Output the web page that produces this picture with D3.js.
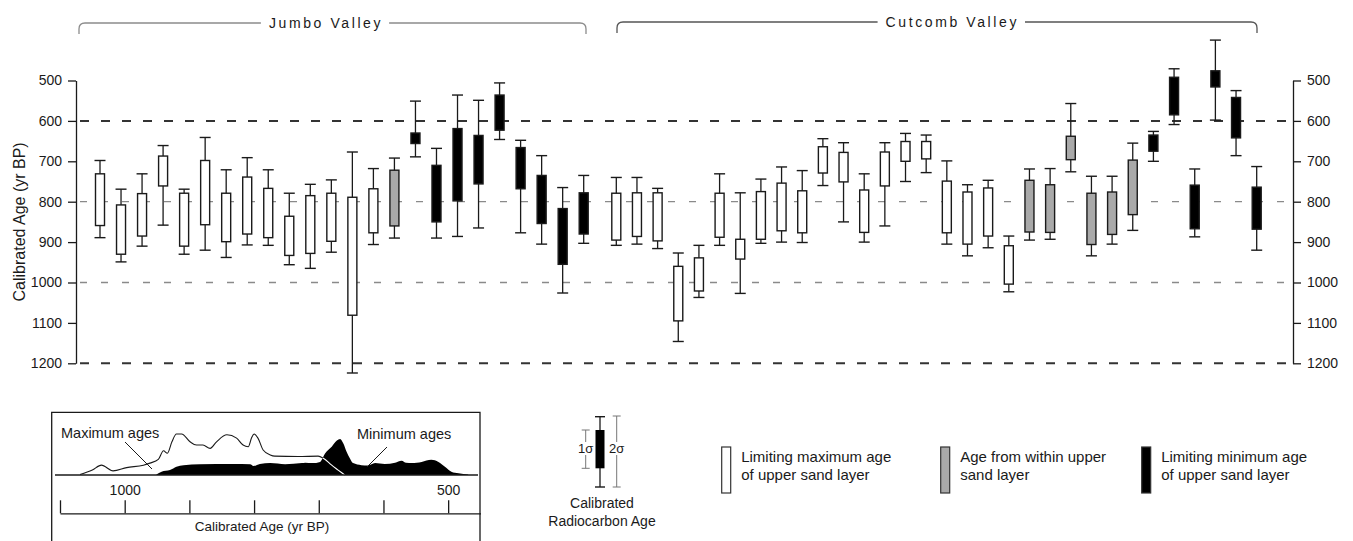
<!DOCTYPE html>
<html><head><meta charset="utf-8">
<script src="https://cdn.jsdelivr.net/npm/d3@7"></script>
<style>
body{margin:0;background:#fff;}
svg{display:block;font-family:"Liberation Sans",Arial,Helvetica,sans-serif;}
</style></head><body>
<svg id="chart" width="1353" height="541"></svg>
<script>
// ---------------- data ----------------
const groupNames = ["Jumbo Valley", "Cutcomb Valley"];
const yTicks = [500, 600, 700, 800, 900, 1000, 1100, 1200];
const darkRefLines = [600, 1200];
const lightRefLines = [800, 1000];

// Jumbo Valley samples (yr BP): 2σ young, 1σ young, 1σ old, 2σ old
const jumboType = ["max","max","max","max","max","max","max","max","max","max","max","max","max","max",
                   "within","min","min","min","min","min","min","min","min","min"];
const jumboLo2 = [698,769,731,661,769,641,721,691,721,779,757,746,677,718,692,551,668,536,549,506,648,686,765,735];
const jumboLo1 = [731,808,780,687,779,698,779,739,767,836,785,779,789,768,722,630,710,619,636,536,666,735,817,778];
const jumboHi1 = [859,930,885,761,910,857,899,880,889,933,928,898,1081,877,860,656,850,798,756,623,768,854,955,880];
const jumboHi2 = [889,949,910,858,930,920,938,907,908,956,965,925,1224,906,890,689,890,886,865,646,877,905,1026,903];

// Cutcomb Valley samples
const cutType = ["max","max","max","max","max","max","max","max","max","max","max","max","max","max","max","max","max","max","max","max",
                 "within","within","within","within","within","within","min","min","min","min","min","min"];
const cutLo2 = [740,740,767,927,908,731,778,744,714,723,644,654,731,654,631,635,699,758,747,885,719,718,557,737,737,655,626,471,719,400,525,713];
const cutLo1 = [779,778,778,960,939,779,893,775,754,773,664,678,771,677,651,651,749,776,766,909,747,758,638,779,776,697,635,492,759,476,542,764];
const cutHi1 = [895,886,897,1095,1021,888,942,893,872,877,729,751,876,761,700,694,877,905,885,1004,875,876,696,906,881,832,675,585,867,516,642,868];
const cutHi2 = [908,905,916,1146,1037,908,1027,903,900,901,760,850,900,860,750,728,905,934,914,1023,895,893,726,934,905,871,700,609,887,598,686,920];

// Inset: summed probability of maximum / minimum ages
const insetTicks = [1100, 1000, 900, 800, 700, 600, 500];
const insetLabels = [1000, 500];
const maxYear = [1069,1050,1036,1018,997,971,961,948,940,934,927,920,912,899,889,879,868,858,842,827,817,809,804,800,794,786,775,768,732,701,693,680,670,660];
const maxDens = [0.01,0.12,0.24,0.10,0.18,0.24,0.29,0.38,0.59,0.53,0.81,1.0,1.0,0.81,0.73,0.73,0.65,0.81,0.98,0.90,0.73,0.69,0.90,1.0,0.90,0.61,0.49,0.46,0.45,0.46,0.41,0.24,0.12,0];
const minYear = [951,943,930,920,909,884,832,806,801,791,775,752,726,721,710,698,690,680,672,667,662,657,652,647,634,624,613,598,582,572,565,556,541,526,515,505,495,484,469];
const minDens = [0.01,0.08,0.12,0.20,0.24,0.26,0.27,0.26,0.22,0.27,0.29,0.26,0.29,0.30,0.29,0.32,0.53,0.69,0.84,0.88,0.77,0.57,0.41,0.29,0.24,0.23,0.29,0.27,0.30,0.35,0.30,0.29,0.32,0.37,0.32,0.20,0.08,0.04,0.01];

const typeFill = {max: "#ffffff", within: "#a9a9a9", min: "#000000"};
const legendItems = [
  {type: "max", lines: ["Limiting maximum age", "of upper sand layer"]},
  {type: "within", lines: ["Age from within upper", "sand layer"]},
  {type: "min", lines: ["Limiting minimum age", "of upper sand layer"]}
];

// ---------------- chart ----------------
const svg = d3.select("#chart");
const INK = "#1a1a1a";
const FONT = "Liberation Sans, Arial, sans-serif";

const y = d3.scaleLinear().domain([500, 1200]).range([80.5, 363.3]);
const xL = 76, xR = 1293;

const jumbo = jumboType.map((t, i) => ({id: "J" + i, type: t, lo2: jumboLo2[i], lo1: jumboLo1[i], hi1: jumboHi1[i], hi2: jumboHi2[i]}));
const cut = cutType.map((t, i) => ({id: "C" + i, type: t, lo2: cutLo2[i], lo1: cutLo1[i], hi1: cutHi1[i], hi2: cutHi2[i]}));
const xJ = d3.scalePoint().domain(jumbo.map(d => d.id)).range([100, 583.7]);
const xC = d3.scalePoint().domain(cut.map(d => d.id)).range([616.3, 1256.7]);

// reference dashed lines
svg.append("g").selectAll("line").data(darkRefLines).join("line")
  .attr("x1", xL + 4).attr("x2", xR - 2).attr("y1", d => y(d)).attr("y2", d => y(d))
  .attr("stroke", "#333").attr("stroke-width", 2).attr("stroke-dasharray", "9,12");
svg.append("g").selectAll("line").data(lightRefLines).join("line")
  .attr("x1", xL + 4).attr("x2", xR - 2).attr("y1", d => y(d)).attr("y2", d => y(d))
  .attr("stroke", "#8a8a8a").attr("stroke-width", 1.3).attr("stroke-dasharray", "7,14");

// axes
const fmt = d3.format("d");
const axL = svg.append("g").attr("transform", `translate(${xL},0)`)
  .call(d3.axisLeft(y).tickValues(yTicks).tickFormat(fmt).tickSize(8).tickSizeOuter(0).tickPadding(6));
const axR = svg.append("g").attr("transform", `translate(${xR},0)`)
  .call(d3.axisRight(y).tickValues(yTicks).tickFormat(fmt).tickSize(8).tickSizeOuter(0).tickPadding(6));
[axL, axR].forEach(a => {
  a.selectAll("path,line").attr("stroke", INK).attr("stroke-width", 1.3);
  a.selectAll("text").attr("fill", INK).attr("font-size", 14).attr("font-family", FONT);
});

svg.append("text").attr("transform", `translate(25,${(y(500) + y(1200)) / 2}) rotate(-90)`)
  .attr("text-anchor", "middle").attr("font-size", 16).attr("fill", INK)
  .text("Calibrated Age (yr BP)");

// boxes
function drawBoxes(data, x) {
  const g = svg.append("g");
  const bw = 9, cw = 11;
  const s = g.selectAll("g").data(data).join("g");
  s.append("line").attr("x1", d => x(d.id)).attr("x2", d => x(d.id))
    .attr("y1", d => y(d.lo2)).attr("y2", d => y(d.hi2)).attr("stroke", INK).attr("stroke-width", 1.3);
  s.append("line").attr("x1", d => x(d.id) - cw / 2).attr("x2", d => x(d.id) + cw / 2)
    .attr("y1", d => y(d.lo2)).attr("y2", d => y(d.lo2)).attr("stroke", INK).attr("stroke-width", 1.4);
  s.append("line").attr("x1", d => x(d.id) - cw / 2).attr("x2", d => x(d.id) + cw / 2)
    .attr("y1", d => y(d.hi2)).attr("y2", d => y(d.hi2)).attr("stroke", INK).attr("stroke-width", 1.4);
  s.append("rect").attr("x", d => x(d.id) - bw / 2).attr("width", bw)
    .attr("y", d => y(d.lo1)).attr("height", d => y(d.hi1) - y(d.lo1))
    .attr("fill", d => typeFill[d.type]).attr("stroke", INK).attr("stroke-width", 1.4);
}
drawBoxes(jumbo, xJ);
drawBoxes(cut, xC);

// group brackets
function bracket(name, x0, x1, yLine, yEnd, textAnchorX, anchor, color) {
  const g = svg.append("g");
  const t = g.append("text").attr("x", textAnchorX).attr("y", yLine + 5)
    .attr("text-anchor", anchor).attr("font-size", 14).attr("letter-spacing", 2.6).attr("fill", INK).text(name);
  const bb = t.node().getBBox();
  const r = 6, gap = 8;
  g.append("path").attr("fill", "none").attr("stroke", color).attr("stroke-width", 1.3)
    .attr("d", `M${x0},${yEnd} L${x0},${yLine + r} Q${x0},${yLine} ${x0 + r},${yLine} L${bb.x - gap},${yLine}`);
  g.append("path").attr("fill", "none").attr("stroke", color).attr("stroke-width", 1.3)
    .attr("d", `M${bb.x + bb.width + gap - 2},${yLine} L${x1 - r},${yLine} Q${x1},${yLine} ${x1},${yLine + r} L${x1},${yEnd}`);
}
bracket(groupNames[0], 79, 586, 23, 34, 326, "middle", "#8c8c8c");
bracket(groupNames[1], 617, 1257, 22, 33, 1019, "end", "#555");

// ---------------- inset ----------------
const ins = svg.append("g");
ins.append("path").attr("fill", "none").attr("stroke", INK).attr("stroke-width", 1.3)
  .attr("d", "M51.7,541 L51.7,412.3 L480,412.3 L480,541");
const xi = d3.scaleLinear().domain([1100, 450]).range([60, 480.5]);
const yi = d3.scaleLinear().domain([0, 1]).range([475, 434]);
const maxPts = maxYear.map((yr, i) => [yr, maxDens[i]]);
const minPts = minYear.map((yr, i) => [yr, minDens[i]]);
const lineGen = d3.line().x(d => xi(d[0])).y(d => yi(d[1])).curve(d3.curveMonotoneX);
const areaGen = d3.area().x(d => xi(d[0])).y0(yi(0)).y1(d => yi(d[1])).curve(d3.curveMonotoneX);

ins.append("path").attr("d", lineGen(maxPts)).attr("fill", "none").attr("stroke", INK).attr("stroke-width", 1.1);
ins.append("path").attr("d", areaGen(minPts)).attr("fill", "#000");
svg.append("clipPath").attr("id", "minclip").append("path").attr("d", areaGen(minPts));
ins.append("path").attr("d", lineGen(maxPts)).attr("fill", "none").attr("stroke", "#fff").attr("stroke-width", 1.1)
  .attr("clip-path", "url(#minclip)");
ins.append("line").attr("x1", 55).attr("x2", 478).attr("y1", yi(0)).attr("y2", yi(0)).attr("stroke", INK).attr("stroke-width", 1.4);

const axI = ins.append("g").attr("transform", "translate(0,513.3)")
  .call(d3.axisTop(xi).tickValues(insetTicks).tickSize(13).tickSizeOuter(0).tickPadding(5)
    .tickFormat(d => insetLabels.includes(d) ? fmt(d) : ""));
axI.selectAll("path,line").attr("stroke", INK).attr("stroke-width", 1.3);
axI.selectAll("text").attr("fill", INK).attr("font-size", 14).attr("font-family", FONT);
ins.append("text").attr("x", 262).attr("y", 531).attr("text-anchor", "middle").attr("font-size", 13.5).attr("fill", INK)
  .text("Calibrated Age (yr BP)");

ins.append("text").attr("x", 61).attr("y", 438).attr("font-size", 14.5).attr("fill", INK).text("Maximum ages");
ins.append("line").attr("x1", 125).attr("y1", 442).attr("x2", 152).attr("y2", 469).attr("stroke", INK).attr("stroke-width", 1);
ins.append("text").attr("x", 357).attr("y", 439).attr("font-size", 14.5).attr("fill", INK).text("Minimum ages");
ins.append("line").attr("x1", 387).attr("y1", 447).attr("x2", 367).attr("y2", 467).attr("stroke", INK).attr("stroke-width", 1);

// ---------------- sigma legend ----------------
const lg = svg.append("g");
const cx = 600;
lg.append("line").attr("x1", cx).attr("x2", cx).attr("y1", 416.7).attr("y2", 487).attr("stroke", INK).attr("stroke-width", 1.3);
[416.7, 487].forEach(v => lg.append("line").attr("x1", cx - 5).attr("x2", cx + 5).attr("y1", v).attr("y2", v).attr("stroke", INK).attr("stroke-width", 1.4));
lg.append("rect").attr("x", cx - 4.5).attr("width", 9).attr("y", 430).attr("height", 38.3).attr("fill", "#000");
function sigmaBar(x, y0, y1, label) {
  lg.append("line").attr("x1", x).attr("x2", x).attr("y1", y0).attr("y2", 442).attr("stroke", "#777").attr("stroke-width", 1);
  lg.append("line").attr("x1", x).attr("x2", x).attr("y1", 455).attr("y2", y1).attr("stroke", "#777").attr("stroke-width", 1);
  [y0, y1].forEach(v => lg.append("line").attr("x1", x - 4).attr("x2", x + 4).attr("y1", v).attr("y2", v).attr("stroke", "#777").attr("stroke-width", 1));
  lg.append("text").attr("x", x).attr("y", 453).attr("text-anchor", "middle").attr("font-size", 13).attr("fill", INK).text(label);
}
sigmaBar(585.7, 430, 468.3, "1σ");
sigmaBar(616.7, 416, 487, "2σ");
lg.append("text").attr("x", 602).attr("y", 508).attr("text-anchor", "middle").attr("font-size", 14).attr("fill", INK).text("Calibrated");
lg.append("text").attr("x", 602).attr("y", 526).attr("text-anchor", "middle").attr("font-size", 14).attr("fill", INK).text("Radiocarbon Age");

// ---------------- type legend ----------------
const legX = [721.7, 940.7, 1141.7];
const tl = svg.append("g").selectAll("g").data(legendItems).join("g")
  .attr("transform", (d, i) => `translate(${legX[i]},0)`);
tl.append("rect").attr("x", 0).attr("y", 447).attr("width", 9).attr("height", 46)
  .attr("fill", d => typeFill[d.type]).attr("stroke", "#333").attr("stroke-width", 1.2);
tl.each(function(d) {
  d3.select(this).selectAll("text").data(d.lines).join("text")
    .attr("x", 19.5).attr("y", (l, j) => 462 + j * 18).attr("font-size", 15).attr("fill", INK).text(l => l);
});
</script>
</body></html>
